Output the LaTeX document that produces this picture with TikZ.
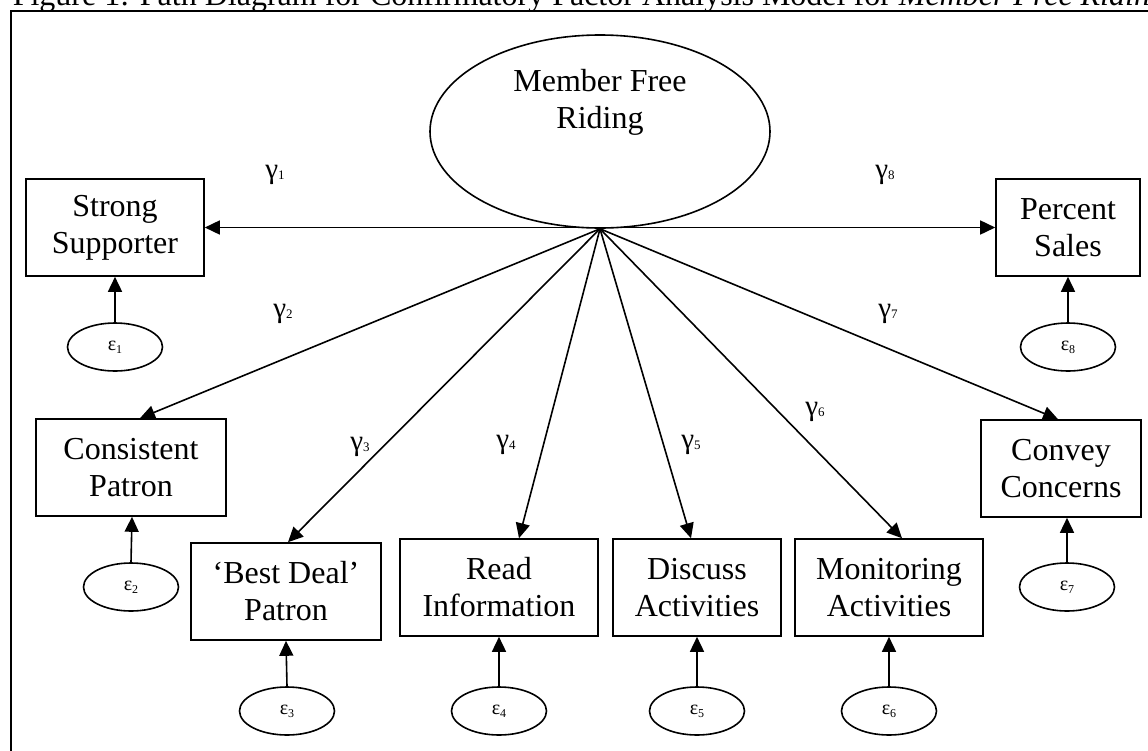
\documentclass[tikz,border=0pt]{standalone}
\usepackage{fontspec}
\setmainfont{Liberation Serif}
\usetikzlibrary{arrows.meta,shapes.geometric}
\newcommand{\gsub}[2]{#1{\fontsize{13}{13}\selectfont\raisebox{-1pt}{#2}}}
\newcommand{\esub}[1]{{\fontsize{20}{20}\selectfont ε}{\fontsize{12}{12}\selectfont\raisebox{-3pt}{#1}}}
\begin{document}
\begin{tikzpicture}[x=1pt,y=-1pt,line width=1.6pt,
  box/.style={draw,rectangle,inner sep=0pt,align=center,font=\fontsize{32}{37}\selectfont},
  err/.style={draw,ellipse,minimum width=95pt,minimum height=48pt,inner sep=0pt},
  arr/.style={-{Triangle[length=15pt,width=14pt]}},
  dbl/.style={{Triangle[length=15pt,width=14pt]}-{Triangle[length=15pt,width=14pt]}},
  gam/.style={inner sep=0pt,font=\fontsize{29}{29}\selectfont}]
\useasboundingbox (0,0) rectangle (1148,750);
\begin{scope}
\clip (0,0) rectangle (1148,750);
\node[anchor=base west,inner sep=0pt,font=\fontsize{32}{32}\selectfont] (title) at (12,5)
  {Figure 1: Path Diagram for Confirmatory Factor Analysis Model for \textit{Member Free Riding}};
\draw[line width=1.7pt] (11,1000) -- (11,11) -- (1200,11);
\end{scope}
% latent
\node[draw,ellipse,minimum width=340pt,minimum height=193pt,inner sep=0pt,align=center,
  font=\fontsize{32}{37}\selectfont] (lv) at (600,131.5) {Member Free\\Riding\\[28pt]};
% indicators
\node[box,minimum width=178pt,minimum height=97pt] (ss) at (115,227.5) {Strong\\Supporter};
\node[box,minimum width=144pt,minimum height=97pt] (ps) at (1068,227.5) {Percent\\Sales};
\node[box,minimum width=190pt,minimum height=97pt] (cp) at (131,467.5) {Consistent\\Patron};
\node[box,minimum width=160pt,minimum height=97pt] (cc) at (1061,468.5) {Convey\\Concerns};
\node[box,minimum width=190pt,minimum height=97pt] (bd) at (286,591.5) {‘Best Deal’\\Patron};
\node[box,minimum width=198pt,minimum height=97pt] (ri) at (499,587.5) {Read\\Information};
\node[box,minimum width=168pt,minimum height=97pt] (da) at (697,587.5) {Discuss\\Activities};
\node[box,minimum width=188pt,minimum height=97pt] (ma) at (889,587.5) {Monitoring\\Activities};
% errors
\node[err] (e1) at (115,347) {\esub{1}};
\node[err] (e8) at (1068,347) {\esub{8}};
\node[err] (e2) at (131,587) {\esub{2}};
\node[err] (e7) at (1067,587) {\esub{7}};
\node[err] (e3) at (287,711) {\esub{3}};
\node[err] (e4) at (499,711) {\esub{4}};
\node[err] (e5) at (697,711) {\esub{5}};
\node[err] (e6) at (889,711) {\esub{6}};
% loadings
\draw[dbl] (ss.east) -- (ps.west);
\draw[arr] (lv.south) -- ([xshift=9pt]cp.north);
\draw[arr] (lv.south) -- ([xshift=2pt]bd.north);
\draw[arr] (lv.south) -- ([xshift=20pt]ri.north);
\draw[arr] (lv.south) -- ([xshift=-6pt]da.north);
\draw[arr] (lv.south) -- ([xshift=13pt]ma.north);
\draw[arr] (lv.south) -- ([xshift=-3pt]cc.north);
% error paths
\draw[arr] (e1.north) -- (ss.south);
\draw[arr] (e8.north) -- (ps.south);
\draw[arr] (e2.north) -- ([xshift=1pt]cp.south);
\draw[arr] (e7.north) -- ([xshift=6pt]cc.south);
\draw[arr] (e3.north) -- (bd.south);
\draw[arr] (e4.north) -- (ri.south);
\draw[arr] (e5.north) -- (da.south);
\draw[arr] (e6.north) -- (ma.south);
% gamma labels
\node[gam] (g1) at (275,175) {\gsub{γ}{1}};
\node[gam] (g8) at (885,175) {\gsub{γ}{8}};
\node[gam] (g2) at (283,314) {\gsub{γ}{2}};
\node[gam] (g7) at (888,314) {\gsub{γ}{7}};
\node[gam] (g3) at (360,447) {\gsub{γ}{3}};
\node[gam] (g4) at (506,445) {\gsub{γ}{4}};
\node[gam] (g5) at (691,445) {\gsub{γ}{5}};
\node[gam] (g6) at (815,412) {\gsub{γ}{6}};
\end{tikzpicture}
\end{document}
